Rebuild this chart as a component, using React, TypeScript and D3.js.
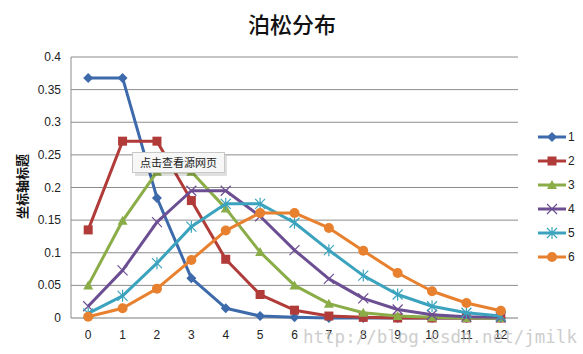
import React from "react";
import * as d3 from "d3";

const categories = ["0","1","2","3","4","5","6","7","8","9","10","11","12"];
const seriesNames = ["1","2","3","4","5","6"];
const s1 = [0.368,0.368,0.184,0.061,0.015,0.003,0.001,0,0,0,0,0,0];
const s2 = [0.135,0.271,0.271,0.180,0.090,0.036,0.012,0.003,0.001,0,0,0,0];
const s3 = [0.050,0.149,0.224,0.224,0.168,0.101,0.050,0.022,0.008,0.003,0.001,0,0];
const s4 = [0.018,0.073,0.147,0.195,0.195,0.156,0.104,0.060,0.030,0.013,0.005,0.002,0.001];
const s5 = [0.007,0.034,0.084,0.140,0.175,0.175,0.146,0.104,0.065,0.036,0.018,0.008,0.003];
const s6 = [0.002,0.015,0.045,0.089,0.134,0.161,0.161,0.138,0.103,0.069,0.041,0.023,0.011];
const yTicks = [0,0.05,0.1,0.15,0.2,0.25,0.3,0.35,0.4];
const yTickLabels = ["0","0.05","0.1","0.15","0.2","0.25","0.3","0.35","0.4"];
const colors = ["#3d6aaa","#b03b38","#8aad48","#6c4e93","#3ba3bd","#e8812f"];
const markers = ["diamond","square","triangle","x","star","circle"];
const title = "泊松分布";
const yTitle = "坐标轴标题";
const tooltip = "点击查看源网页";
const watermark = "http://blog.csdn.net/jmilk";

const W = 583, H = 354;
const L = 71, R = 518, T = 57, B = 318;

function Marker({ type, x, y, color }: { type: string; x: number; y: number; color: string }) {
  switch (type) {
    case "diamond":
      return <path d={`M${x},${y - 5}L${x + 5},${y}L${x},${y + 5}L${x - 5},${y}Z`} fill={color} />;
    case "square":
      return <rect x={x - 4.5} y={y - 4.5} width={9} height={9} fill={color} />;
    case "triangle":
      return <path d={`M${x},${y - 5}L${x + 5},${y + 4}L${x - 5},${y + 4}Z`} fill={color} />;
    case "x":
      return <path d={`M${x - 5},${y - 5}L${x + 5},${y + 5}M${x - 5},${y + 5}L${x + 5},${y - 5}`} stroke={color} strokeWidth={1.2} fill="none" />;
    case "star":
      return <path d={`M${x - 5},${y - 5}L${x + 5},${y + 5}M${x - 5},${y + 5}L${x + 5},${y - 5}M${x},${y - 6}L${x},${y + 6}`} stroke={color} strokeWidth={1.2} fill="none" />;
    default:
      return <circle cx={x} cy={y} r={5} fill={color} />;
  }
}

export default function App() {
  const series = [s1, s2, s3, s4, s5, s6];
  const x = d3.scaleBand<string>().domain(categories).range([L, R]);
  const cx = (c: string) => (x(c) as number) + x.bandwidth() / 2;
  const y = d3.scaleLinear().domain([0, 0.4]).range([B, T]);
  const line = d3.line<number>().x((_, i) => cx(categories[i])).y((d) => y(d));
  const font = "'Liberation Sans', Arial, sans-serif";
  const cjk = "'Noto Sans CJK SC', sans-serif";
  return (
    <div style={{ position: "fixed", left: 0, top: 0 }}>
      <svg width={W} height={H} style={{ display: "block", background: "#fff" }}>
        <text x={292} y={33} textAnchor="middle" fontFamily={cjk} fontSize={22} fontWeight={500} fill="#111">{title}</text>
        {yTicks.map((t, i) => (
          <g key={i}>
            {t !== 0 && <line x1={L} x2={R} y1={y(t)} y2={y(t)} stroke="#8c8c8c" strokeWidth={1} />}
            <text x={61} y={y(t) + 4} textAnchor="end" fontFamily={font} fontSize={12} fill="#222">{yTickLabels[i]}</text>
          </g>
        ))}
        <line x1={L} x2={L} y1={T} y2={B} stroke="#8c8c8c" />
        <line x1={L} x2={R} y1={B} y2={B} stroke="#7a7a7a" />
        {categories.map((c) => (
          <text key={c} x={cx(c)} y={339} textAnchor="middle" fontFamily={font} fontSize={12} fill="#222">{c}</text>
        ))}
        <text transform={`translate(27,186.5) rotate(-90)`} textAnchor="middle" fontFamily={cjk} fontSize={13} fontWeight={700} fill="#111">{yTitle}</text>
        {series.map((s, si) => (
          <g key={si}>
            <path d={line(s) as string} fill="none" stroke={colors[si]} strokeWidth={3} strokeLinejoin="round" />
            {s.map((v, i) => (
              <Marker key={i} type={markers[si]} x={cx(categories[i])} y={y(v)} color={colors[si]} />
            ))}
          </g>
        ))}
        {seriesNames.map((n, i) => {
          const ly = 137 + i * 24;
          return (
            <g key={n}>
              <line x1={538} x2={566} y1={ly} y2={ly} stroke={colors[i]} strokeWidth={3} />
              <Marker type={markers[i]} x={552} y={ly} color={colors[i]} />
              <text x={568} y={ly + 4} fontFamily={font} fontSize={12} fill="#222">{n}</text>
            </g>
          );
        })}
        <g>
          <rect x={133} y={154} width={92} height={20} fill="#000" opacity={0.12} transform="translate(2,2)" />
          <rect x={132.5} y={152.5} width={92} height={20} fill="#f7f7f7" stroke="#c8c8c8" />
          <text x={178.5} y={166.5} textAnchor="middle" fontFamily={cjk} fontSize={11} fill="#222">{tooltip}</text>
        </g>
        <text x={303} y={343} fontFamily="'DejaVu Sans Mono', monospace" fontSize={17.5} fill="#bdbdbd" opacity={0.75}>{watermark}</text>
      </svg>
    </div>
  );
}
